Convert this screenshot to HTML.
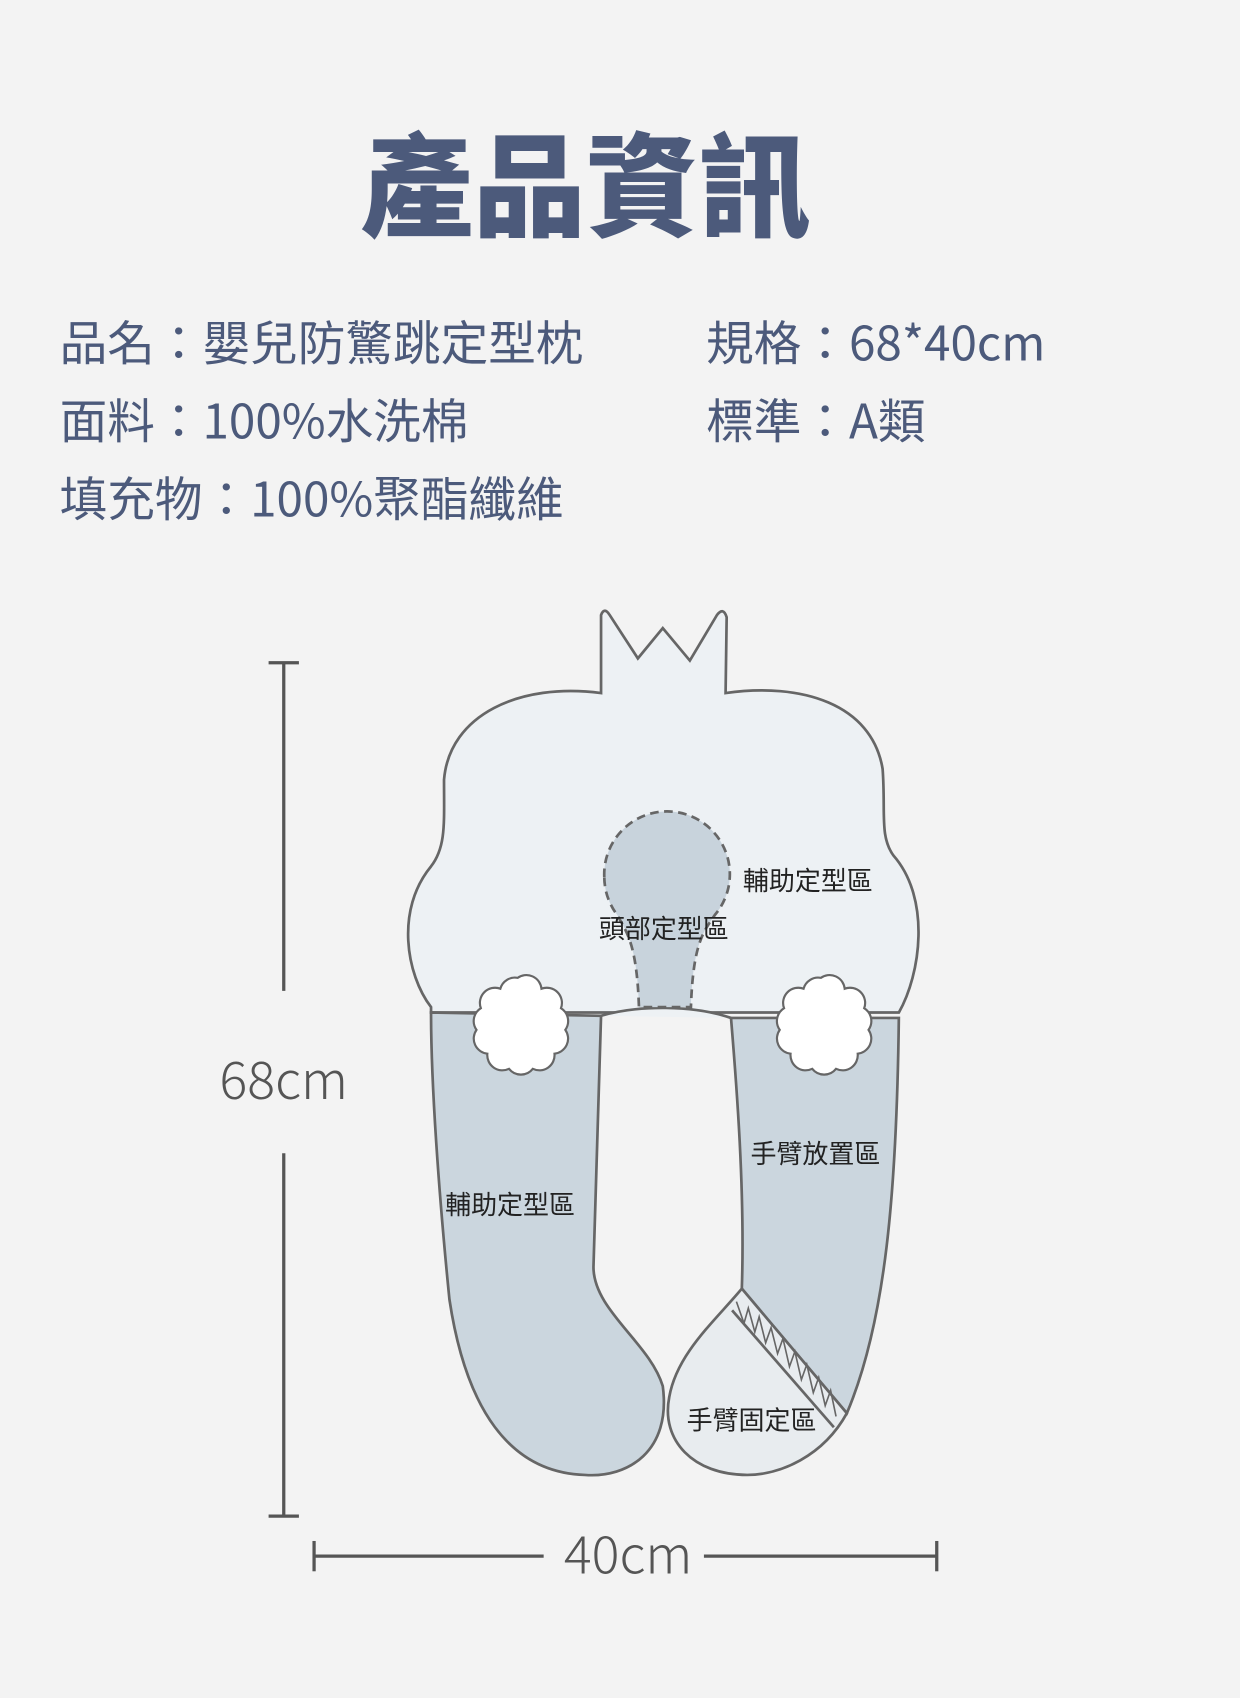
<!DOCTYPE html>
<html><head><meta charset="utf-8"><style>
html,body{margin:0;padding:0;background:#f3f3f3;}
svg{display:block;}
</style></head><body>
<svg width="1240" height="1698" viewBox="0 0 1145 1568" xmlns="http://www.w3.org/2000/svg">
<rect width="1145" height="1568" fill="#f3f3f3"/>
<g font-family="Noto Sans CJK TC, sans-serif" fill="#4c5a7b">
<text x="541" y="210" font-size="104" font-weight="900" text-anchor="middle">產品資訊</text>
<text x="55" y="333" font-size="44">品名：嬰兒防驚跳定型枕</text>
<text x="652" y="333" font-size="44">規格：68*40cm</text>
<text x="55" y="405" font-size="44">面料：100%水洗棉</text>
<text x="652" y="405" font-size="44">標準：A類</text>
<text x="55" y="477" font-size="44">填充物：100%聚酯纖維</text>
</g>
<g stroke="#555" stroke-width="3" fill="none">
<line x1="262" y1="612" x2="262" y2="915"/><line x1="262" y1="1065" x2="262" y2="1400"/>
<line x1="248" y1="612" x2="276" y2="612"/><line x1="248" y1="1400" x2="276" y2="1400"/>
<line x1="290" y1="1437" x2="502" y2="1437"/><line x1="650" y1="1437" x2="865" y2="1437"/>
<line x1="290" y1="1423" x2="290" y2="1451"/><line x1="865" y1="1423" x2="865" y2="1451"/>
</g>
<text x="262" y="1015" font-size="48" fill="#555" text-anchor="middle" font-family="Noto Sans CJK TC, sans-serif" font-weight="300">68cm</text>
<text x="580" y="1453" font-size="48" fill="#555" text-anchor="middle" font-family="Noto Sans CJK TC, sans-serif" font-weight="300">40cm</text>
<g stroke="#666" stroke-width="2.5">
<path d="M398,930 C375,900 365,840 398,800 C412,782 410,760 410,720 C415,660 480,630 555,640 L555,568 Q558,560 563,568 L589,608 L612,580 L637,610 L662,568 Q668,560 671,570 L670,640 C740,630 805,650 815,710 C818,750 812,772 825,790 C860,830 850,900 830,935 L398,935 Z" fill="#edf1f4"/>
<path d="M398,935 L555,938 L548,1170 C548,1210 600,1240 612,1280 C620,1340 580,1365 540,1362 C470,1360 430,1300 415,1200 C405,1100 398,1000 398,935 Z" fill="#cbd6de"/>
<path d="M555,938 C590,928 640,928 675,940" fill="#edf1f4"/>
<path d="M675,940 L830,940 C828,1100 818,1220 782,1305 L685,1190 C688,1100 680,1000 675,940 Z" fill="#cbd6de"/>
<path d="M685,1190 L782,1305 C760,1345 720,1362 690,1362 C640,1362 610,1330 618,1290 C625,1250 660,1220 685,1190 Z" fill="#e8ecef"/>
<path d="M676,1210 L770,1318" fill="none"/>
<path d="M680,1202 L687,1222 L691,1208 L697,1230 L701,1216 L707,1240 L712,1226 L718,1250 L723,1236 L729,1262 L734,1248 L740,1274 L745,1260 L751,1286 L756,1272 L762,1298 L767,1284 L772,1308" fill="none" stroke-width="1.5"/>
<path d="M558,810 A58,58 0 1 1 660,845 C650,860 640,870 638,930 L590,930 C588,870 578,860 570,845 A58,58 0 0 1 558,810 Z" fill="#c8d3dc" stroke-dasharray="8,5"/>
</g>
<g fill="#fff" stroke="#666" stroke-width="2">
<path d="M478,903 a14,14 0 0 1 22,10 a14,14 0 0 1 18,18 a14,14 0 0 1 4,20 a14,14 0 0 1 -10,22 a14,14 0 0 1 -20,14 a14,14 0 0 1 -22,0 a14,14 0 0 1 -20,-14 a14,14 0 0 1 -10,-22 a14,14 0 0 1 4,-20 a14,14 0 0 1 18,-18 a14,14 0 0 1 16,-10 Z"/>
<path d="M758,903 a14,14 0 0 1 22,10 a14,14 0 0 1 18,18 a14,14 0 0 1 4,20 a14,14 0 0 1 -10,22 a14,14 0 0 1 -20,14 a14,14 0 0 1 -22,0 a14,14 0 0 1 -20,-14 a14,14 0 0 1 -10,-22 a14,14 0 0 1 4,-20 a14,14 0 0 1 18,-18 a14,14 0 0 1 16,-10 Z"/>
</g>
<g font-family="Noto Sans CJK TC, sans-serif" font-size="24" fill="#222">
<text x="686" y="822">輔助定型區</text>
<text x="553" y="866">頭部定型區</text>
<text x="411" y="1121">輔助定型區</text>
<text x="693" y="1074">手臂放置區</text>
<text x="634" y="1320">手臂固定區</text>
</g>
</svg>
</body></html>
